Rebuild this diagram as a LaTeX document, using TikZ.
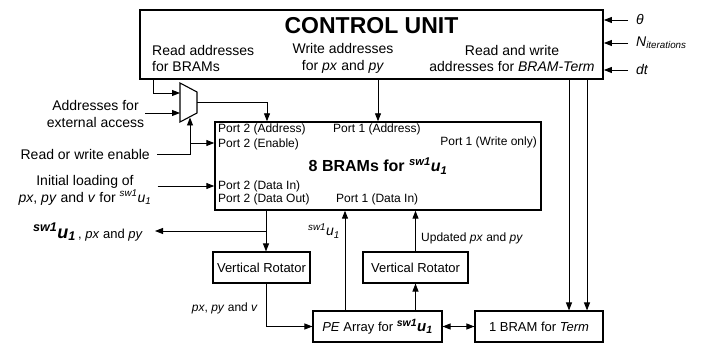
\documentclass[tikz,border=0pt]{standalone}
\usepackage{fontspec}
\setmainfont{Liberation Sans}
\usetikzlibrary{arrows.meta}
\newcommand{\fsz}[2]{\fontsize{#1}{#2}\selectfont}
\newcommand{\swu}{\textsuperscript{\itshape sw1}\textit{u}\textsubscript{\itshape 1}}
\begin{document}
\begin{tikzpicture}[x=1pt, y=-1pt, >={Triangle[length=8pt,width=6pt]},
    box/.style={draw, line width=1.1pt, minimum height=31pt, inner sep=0pt, font=\fsz{13}{15}},
    port/.style={anchor=west, inner sep=0pt, font=\fsz{12}{14}},
    lbl/.style={inner sep=1pt, font=\fsz{14}{17}, align=center},
    note/.style={inner sep=1pt, font=\fsz{12}{14}},
    sig/.style={->, line width=0.9pt}]
    \useasboundingbox (0,0) rectangle (723,344);

    % Control unit
    \node[draw, line width=1.8pt, minimum width=463pt, minimum height=69pt, inner sep=0pt] (cu) at (371.5,44.5) {};
    \node[inner sep=0pt, font=\fsz{23}{26}\bfseries] (cutitle) at (371.5,26) {CONTROL UNIT};
    \node[lbl, align=left, anchor=west] (rdaddr) at (151,58.5) {Read addresses\\for BRAMs};
    \node[lbl] (wraddr) at (343,58.5) {Write addresses\\for \textit{px} and \textit{py}};
    \node[lbl] (tmaddr) at (512,58.5) {Read and write\\addresses for \textit{BRAM-Term}};

    % Inputs of the control unit
    \node[lbl, anchor=west] (theta) at (635,20) {\textit{θ}};
    \node[lbl, anchor=west] (niter) at (635,43) {\textit{N}\textsubscript{\itshape iterations}};
    \node[lbl, anchor=west] (dt) at (635,70) {\textit{dt}};
    \foreach \inp in {theta,niter,dt}
        \draw[sig] (\inp.west) ++(-7,0) -- (cu.east |- \inp.west);

    % Main blocks
    \node[draw, line width=1.4pt, minimum width=326pt, minimum height=88pt, inner sep=0pt] (bram) at (378,166) {};
    \node[box, minimum width=97pt] (vr1) at (261.5,267.5) {Vertical Rotator};
    \node[box, minimum width=105pt] (vr2) at (415.5,267.5) {Vertical Rotator};
    \node[box, minimum width=129pt] (pe) at (377.5,326.5) {\textit{PE} Array for {\fsz{15}{17}\bfseries\swu}};
    \node[box, minimum width=128pt] (term) at (539,326.5) {1 BRAM for \textit{Term}};

    % Ports of the BRAMs
    \node[port] (p2addr) at (218,129) {Port 2 (Address)};
    \node[port] (p1addr) at (333,129) {Port 1 (Address)};
    \node[port] (p2en) at (218,144) {Port 2 (Enable)};
    \node[port, anchor=east] (p1wr) at (537,142) {Port 1 (Write only)};
    \node[inner sep=0pt, font=\fsz{16}{18}\bfseries] (bramname) at (378,166) {8 BRAMs for \swu};
    \node[port] (p2din) at (218,186) {Port 2 (Data In)};
    \node[port] (p2dout) at (218,199) {Port 2 (Data Out)};
    \node[port] (p1din) at (336,199) {Port 1 (Data In)};

    % Multiplexer
    \draw[line width=1.1pt] (180,83) -- (197,92) -- (197,113) -- (180,122) -- cycle;
    \coordinate (muxA) at (180,93);
    \coordinate (muxB) at (180,113);
    \coordinate (muxout) at (197,102);
    \coordinate (muxsel) at (190,117.5);

    % Address paths
    \coordinate (rdtap) at (153,0);
    \draw[sig] (cu.south -| rdtap) |- (muxA);
    \node[lbl] (ext) at (95.5,114) {Addresses for\\external access};
    \draw[sig] (ext.east |- muxB) -- (muxB);
    \coordinate (adr2) at (267,0);
    \draw[sig] (muxout) -| (bram.north -| adr2);
    \draw[sig] (cu.south -| bram.north) -- (bram.north);

    % Enable
    \node[lbl, anchor=east] (rwen) at (151,154) {Read or write enable};
    \draw[sig] (rwen.east) ++(6,0) -| (muxsel);
    \coordinate (enrow) at (0,143);
    \draw[sig] (muxsel |- enrow) -- (bram.west |- enrow);

    % Initial loading
    \node[lbl] (init) at (85,190) {Initial loading of\\\textit{px}, \textit{py} and \textit{v} for \swu};
    \coordinate (dinrow) at (0,186);
    \draw[sig] (init.east |- dinrow) ++(5,0) -- (bram.west |- dinrow);

    % Data out
    \coordinate (doutcol) at (266,0);
    \coordinate (outrow) at (0,231);
    \draw[sig] (bram.south -| doutcol) -- (vr1.north -| doutcol);
    \node[anchor=east, inner sep=0pt, font=\fsz{13}{15}] (outlbl) at (143,232) {{\fsz{18}{20}\bfseries\swu}\,, \textit{px} and \textit{py}};
    \draw[sig] (doutcol |- outrow) -- (155,231);
    \draw[sig] (vr1.south -| doutcol) |- (pe.west);
    \node[note, anchor=east] (pxin) at (259,308) {\textit{px}, \textit{py} and \textit{v}};

    % Back to the BRAMs
    \coordinate (pecol) at (345,0);
    \draw[sig] (pe.north -| pecol) -- (bram.south -| pecol);
    \node[note, anchor=east, font=\fsz{14}{16}] (swlbl) at (341,231) {\swu};
    \draw[sig] (pe.north -| vr2.south) -- (vr2.south);
    \draw[sig] (vr2.north) -- (bram.south -| vr2.north);
    \node[note, anchor=west] (upd) at (420,238) {Updated \textit{px} and \textit{py}};

    % Term
    \draw[<->, line width=0.9pt] (pe.east) -- (term.west);
    \coordinate (termA) at (569,0);
    \coordinate (termB) at (587,0);
    \draw[sig] (cu.south -| termA) -- (term.north -| termA);
    \draw[sig] (cu.south -| termB) -- (term.north -| termB);
\end{tikzpicture}
\end{document}
